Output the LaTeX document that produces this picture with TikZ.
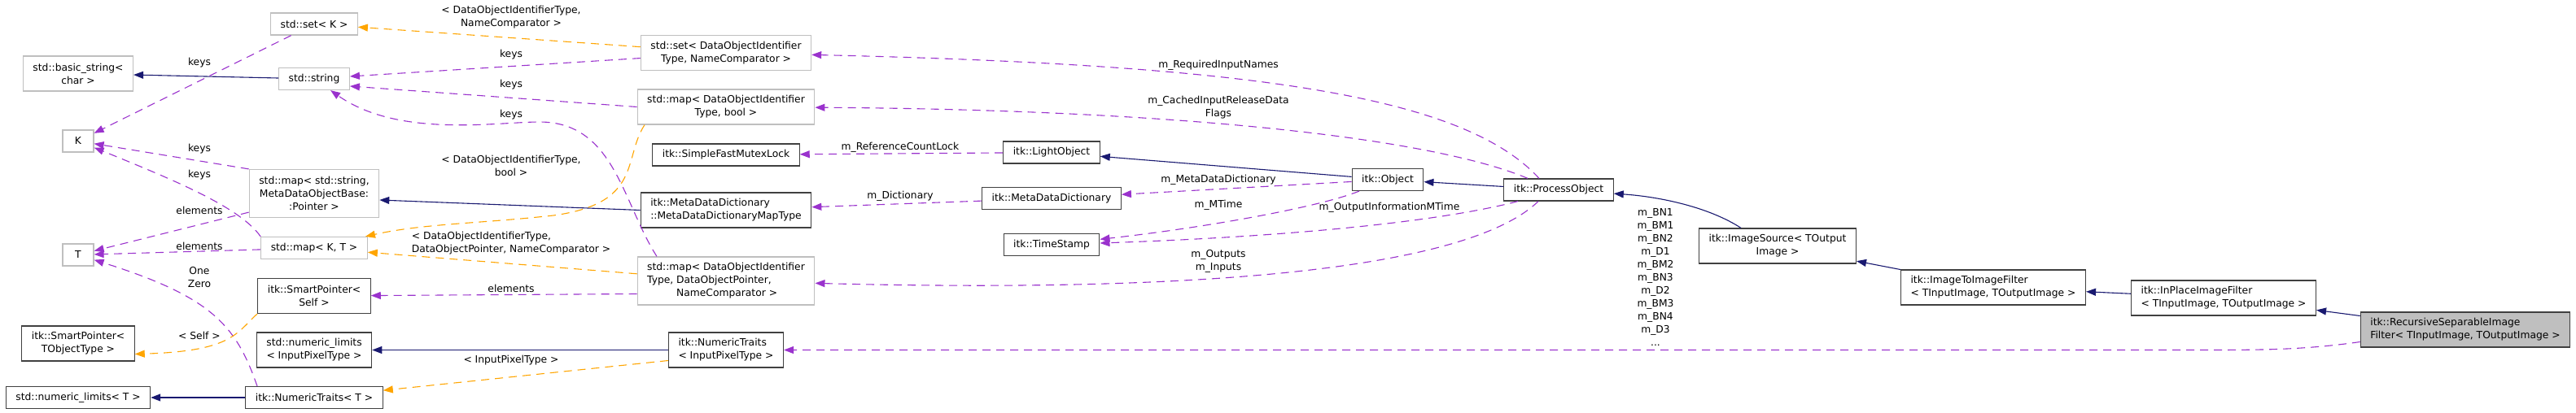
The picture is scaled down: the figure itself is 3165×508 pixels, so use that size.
\documentclass[tikz,border=0pt]{standalone}
\usepackage{fontspec}
\setmainfont{DejaVu Sans}
\usetikzlibrary{arrows.meta}

\definecolor{inhcol}{RGB}{25,25,112}
\definecolor{usecol}{RGB}{154,50,205}
\definecolor{tplcol}{RGB}{255,165,0}

\begin{document}
\begin{tikzpicture}[
    x=1pt, y=-1pt,
    every node/.style={font=\fontsize{12.3}{16}\selectfont},
    classbox/.style={draw, rectangle, align=center, inner xsep=12pt, inner ysep=6pt, minimum height=27pt, line width=1.2pt},
    stdbox/.style={classbox, draw=black!25},
    itkbox/.style={classbox, draw=black!75},
    two/.style={minimum height=43pt},
    three/.style={minimum height=59pt},
    inherit/.style={-{Triangle[length=12pt, width=9pt]}, line width=1.1pt, color=inhcol},
    usage/.style={-{Triangle[length=12pt, width=9pt]}, line width=1.1pt, color=usecol, dash pattern=on 10pt off 7pt},
    tmpl/.style={usage, color=tplcol},
    lbl/.style={align=center, inner sep=0pt}
  ]
  \useasboundingbox (0,0) rectangle (3165,508);

  \node[stdbox] (setk) at (386,29.5) {std::set< K >};
  \node[stdbox, two] (bstr) at (96,90.5) {std::basic\_string<\\char >};
  \node[stdbox] (str) at (386,97) {std::string};
  \node[stdbox, minimum width=38pt] (ktype) at (96,173.5) {K};
  \node[stdbox, three] (smap) at (386,238) {std::map< std::string,\\MetaDataObjectBase:\\:Pointer >};
  \node[stdbox, minimum width=38pt] (ttype) at (96,313.5) {T};
  \node[stdbox] (mapkt) at (386,305) {std::map< K, T >};
  \node[itkbox, two] (sps) at (386,364) {itk::SmartPointer<\\Self >};
  \node[itkbox, two] (spt) at (96,422.5) {itk::SmartPointer<\\TObjectType >};
  \node[itkbox, two] (nlip) at (386,430.5) {std::numeric\_limits\\< InputPixelType >};
  \node[itkbox] (nlt) at (96,489) {std::numeric\_limits< T >};
  \node[itkbox] (ntt) at (386,489) {itk::NumericTraits< T >};

  \node[stdbox, two] (setdoi) at (892,65) {std::set< DataObjectIdentifier\\Type, NameComparator >};
  \node[stdbox, two] (mapdb) at (892,131.5) {std::map< DataObjectIdentifier\\Type, bool >};
  \node[itkbox] (mutex) at (892,190.5) {itk::SimpleFastMutexLock};
  \node[itkbox, two, align=left] (maptype) at (892,258.5) {itk::MetaDataDictionary\\::MetaDataDictionaryMapType};
  \node[stdbox, three, align=left] (mapdop) at (892,345.5) {std::map< DataObjectIdentifier\\Type, DataObjectPointer,\\\hspace*{36pt}NameComparator >};
  \node[itkbox, two, align=left] (ntip) at (892,430.5) {itk::NumericTraits\\< InputPixelType >};

  \node[itkbox] (light) at (1292,187.5) {itk::LightObject};
  \node[itkbox] (mdd) at (1292,244) {itk::MetaDataDictionary};
  \node[itkbox] (ts) at (1292,301) {itk::TimeStamp};
  \node[itkbox] (obj) at (1705,221) {itk::Object};
  \node[itkbox] (po) at (1915,233.5) {itk::ProcessObject};
  \node[itkbox, two] (source) at (2184,302.5) {itk::ImageSource< TOutput\\Image >};
  \node[itkbox, two, align=left] (i2i) at (2449,353.5) {itk::ImageToImageFilter\\< TInputImage, TOutputImage >};
  \node[itkbox, two, align=left] (inplace) at (2732,366.5) {itk::InPlaceImageFilter\\< TInputImage, TOutputImage >};
  \node[itkbox, two, align=left, fill=black!25] (rec) at (3029,405.5) {itk::RecursiveSeparableImage\\Filter< TInputImage, TOutputImage >};

  \draw[inherit] (str) -- (bstr);
  \draw[inherit] (maptype.west) -- ([yshift=-8pt]smap.east);
  \draw[inherit] (ntip) -- (nlip);
  \draw[inherit] (ntt) -- (nlt);
  \draw[inherit] (obj) -- (light);
  \draw[inherit] (po) -- (obj);
  \draw[inherit] ([xshift=-45pt]source.north) .. controls (2100,255) and (2040,242) .. (po);
  \draw[inherit] (i2i) -- (source);
  \draw[inherit] (inplace) -- (i2i);
  \draw[inherit] (rec) -- (inplace);

  \draw[usage] (setk) -- (ktype);
  \draw[usage] (setdoi) -- ([yshift=3pt]str.east);
  \draw[usage] (mapdb.west) -- ([yshift=-9pt]str.east);
  \draw[usage] ([xshift=-85pt]mapdop.north) .. controls (765,250) and (755,150) .. (663,150) .. controls (610,150) and (490,170) .. (str);
  \draw[usage] (smap.north west) -- (ktype);
  \draw[usage] (mapkt.north west) .. controls (295,255) and (215,222) .. (ktype);
  \draw[usage] ([yshift=7pt]smap.south west) -- (ttype);
  \draw[usage] (mapkt) -- (ttype);
  \draw[usage] ([xshift=-70pt]ntt.north) .. controls (290,400) and (260,365) .. (ttype);
  \draw[usage] ([yshift=-16pt]mapdop.west) -- (sps);
  \draw[usage] (light) -- (mutex);
  \draw[usage] (mdd) -- (maptype);
  \draw[usage] ([xshift=-24pt]po.north) .. controls (1800,120) and (1550,80) .. (setdoi);
  \draw[usage] ([xshift=-38pt]po.north) .. controls (1760,170) and (1450,135) .. (mapdb);
  \draw[usage] (obj) -- (mdd);
  \draw[usage] ([xshift=-35pt]obj.south) .. controls (1620,255) and (1480,280) .. (ts);
  \draw[usage] ([xshift=-50pt]po.south) .. controls (1760,275) and (1560,292) .. (ts);
  \draw[usage] ([xshift=-25pt]po.south) .. controls (1800,335) and (1450,360) .. (mapdop);
  \draw[usage] ([yshift=-15pt]rec.west) .. controls (2830,430.5) and (2780,430.5) .. (2700,430.5) -- (ntip);

  \draw[tmpl] (setdoi) -- (setk);
  \draw[tmpl] ([xshift=-100pt]mapdb.south) .. controls (765,195) and (790,250) .. (680,265) .. controls (590,275) and (520,275) .. (mapkt);
  \draw[tmpl] (mapdop) -- (mapkt);
  \draw[tmpl] ([xshift=-70pt]sps.south) .. controls (290,410) and (285,432) .. ([yshift=-13pt]spt.east);
  \draw[tmpl] ([yshift=-13pt]ntip.west) -- (ntt);

  \node[lbl] (ltsetk) at (628,21) {< DataObjectIdentifierType,\\NameComparator >};
  \node[lbl] (lkeys1) at (245,77) {keys};
  \node[lbl] (lkeys2) at (628,67) {keys};
  \node[lbl] (lkeys3) at (628,104) {keys};
  \node[lbl] (lkeys4) at (628,141) {keys};
  \node[lbl] (lkeys5) at (245,183) {keys};
  \node[lbl] (lkeys6) at (245,215) {keys};
  \node[lbl] (ltmapdb) at (628,203.5) {< DataObjectIdentifierType,\\bool >};
  \node[lbl] (lelem1) at (245,259) {elements};
  \node[lbl, align=left] (ltmapdop) at (628,299.5) {< DataObjectIdentifierType,\\DataObjectPointer, NameComparator >};
  \node[lbl] (lelem2) at (245,303) {elements};
  \node[lbl] (lonezero) at (245,341) {One\\Zero};
  \node[lbl] (lelem3) at (628,355) {elements};
  \node[lbl] (lself) at (245,413) {< Self >};
  \node[lbl] (lpixel) at (628,443) {< InputPixelType >};
  \node[lbl] (lrefcount) at (1106,181) {m\_ReferenceCountLock};
  \node[lbl] (ldict) at (1106,241) {m\_Dictionary};
  \node[lbl] (lreq) at (1497,80) {m\_RequiredInputNames};
  \node[lbl] (lcached) at (1497,132) {m\_CachedInputReleaseData\\Flags};
  \node[lbl] (lmeta) at (1497,221) {m\_MetaDataDictionary};
  \node[lbl] (lmtime) at (1497,252) {m\_MTime};
  \node[lbl] (loutinfo) at (1707,255) {m\_OutputInformationMTime};
  \node[lbl] (lports) at (1497,321) {m\_Outputs\\m\_Inputs};
  \node[lbl] (lbn) at (2034,341) {m\_BN1\\m\_BM1\\m\_BN2\\m\_D1\\m\_BM2\\m\_BN3\\m\_D2\\m\_BM3\\m\_BN4\\m\_D3\\...};
\end{tikzpicture}
\end{document}
